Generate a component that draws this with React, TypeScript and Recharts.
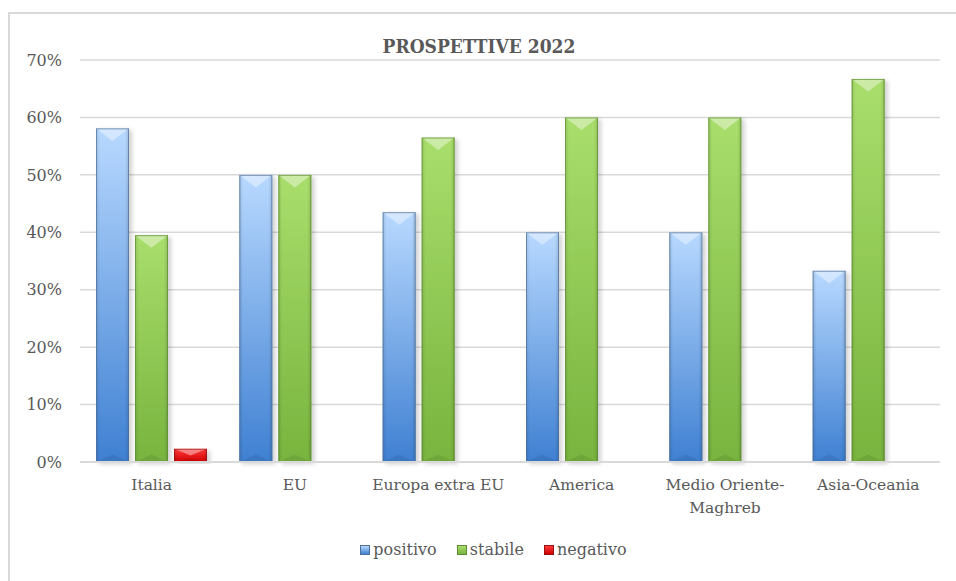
import { BarChart, Bar, XAxis, YAxis, CartesianGrid, Legend } from "recharts";

const categories = ["Italia", "EU", "Europa extra EU", "America", "Medio Oriente-Maghreb", "Asia-Oceania"];
const positivo = [58.1, 50, 43.5, 40, 40, 33.3];
const stabile = [39.5, 50, 56.5, 60, 60, 66.7];
const negativo = [2.3, 0, 0, 0, 0, 0];
const yTicks = [0, 10, 20, 30, 40, 50, 60, 70];

const data = categories.map((name, i) => ({
  name,
  positivo: positivo[i],
  stabile: stabile[i],
  negativo: negativo[i],
}));

const FONT = "'DejaVu Serif', serif";
const TEXT = "#595959";

// top/bottom colours of the bevelled bars
const SERIES = [
  { key: "positivo", top: "#b8d9ff", bottom: "#3f80d2", edge: "#4f6f96" },
  { key: "stabile", top: "#a9de6c", bottom: "#78b43e", edge: "#5f8a34" },
  { key: "negativo", top: "#ff3a3a", bottom: "#d00000", edge: "#9a1010" },
];

function BevelBar(props: any) {
  const { x, y, width, height, id } = props;
  if (!height || height <= 0) return null;
  const d = Math.min(width * 0.38, height / 2);
  const cx = x + width / 2;
  return (
    <g filter="url(#barShadow)">
      <rect x={x} y={y} width={width} height={height} fill={`url(#grad-${id})`} />
      <rect x={x} y={y} width={width} height={height} fill={`url(#side-${id})`} />
      <polygon points={`${x},${y} ${x + width},${y} ${cx},${y + d}`} fill="#ffffff" opacity={0.4} />
      <polygon
        points={`${x},${y + height} ${x + width},${y + height} ${cx},${y + height - d * 0.6}`}
        fill="#000000"
        opacity={0.08}
      />
      <rect
        x={x + 0.5}
        y={y + 0.5}
        width={width - 1}
        height={height - 1}
        fill="none"
        stroke={SERIES.find((s) => s.key === id)?.edge}
        strokeOpacity={0.7}
      />
    </g>
  );
}

function XTick(props: any) {
  const { x, y, payload } = props;
  const label: string = payload.value;
  const cut = label.indexOf("-") + 1;
  const lines = label.length > 16 && cut > 0 ? [label.slice(0, cut), label.slice(cut)] : [label];
  return (
    <text x={x} y={y} textAnchor="middle" fill={TEXT} fontFamily={FONT} fontSize={15.5}>
      {lines.map((l, i) => (
        <tspan key={i} x={x} dy={i === 0 ? 20 : 23}>
          {l}
        </tspan>
      ))}
    </text>
  );
}

function LegendContent() {
  return (
    <div
      style={{
        display: "flex",
        justifyContent: "center",
        gap: 20,
        paddingLeft: 37,
        fontFamily: FONT,
        fontSize: 16,
        color: TEXT,
      }}
    >
      {SERIES.map((s) => (
        <div key={s.key} style={{ display: "flex", alignItems: "center" }}>
          <span
            style={{
              width: 10,
              height: 10,
              marginRight: 3,
              background: `linear-gradient(${s.top}, ${s.bottom})`,
              border: `1px solid ${s.edge}`,
              boxSizing: "border-box",
            }}
          />
          {s.key}
        </div>
      ))}
    </div>
  );
}

export default function App() {
  return (
    <div
      style={{
        position: "absolute",
        left: 8,
        top: 12,
        width: 960,
        height: 580,
        border: "2px solid #d9d9d9",
        background: "#fff",
      }}
    >
      <div
        style={{
          position: "absolute",
          top: 21,
          left: 0,
          width: 938,
          textAlign: "center",
          fontFamily: "'DejaVu Serif Condensed', 'DejaVu Serif', serif",
          fontWeight: "bold",
          fontSize: 19,
          color: TEXT,
        }}
      >
        PROSPETTIVE 2022
      </div>
      <BarChart
        width={948}
        height={569}
        data={data}
        margin={{ top: 46, right: 18, bottom: 0, left: 0 }}
        barSize={33}
        barGap={6}
      >
        <defs>
          {SERIES.map((s) => (
            <linearGradient key={s.key} id={`grad-${s.key}`} x1="0" y1="0" x2="0" y2="1">
              <stop offset="0%" stopColor={s.top} />
              <stop offset="100%" stopColor={s.bottom} />
            </linearGradient>
          ))}
          {SERIES.map((s) => (
            <linearGradient key={s.key} id={`side-${s.key}`} x1="0" y1="0" x2="1" y2="0">
              <stop offset="0%" stopColor="#000" stopOpacity={0.12} />
              <stop offset="12%" stopColor="#000" stopOpacity={0} />
              <stop offset="88%" stopColor="#000" stopOpacity={0} />
              <stop offset="100%" stopColor="#000" stopOpacity={0.15} />
            </linearGradient>
          ))}
          <filter id="barShadow" x="-20%" y="-5%" width="150%" height="115%">
            <feDropShadow dx={3} dy={2} stdDeviation={2} floodColor="#000" floodOpacity={0.18} />
          </filter>
        </defs>
        <CartesianGrid vertical={false} stroke="#d9d9d9" strokeWidth={1.5} />
        <XAxis
          dataKey="name"
          tick={<XTick />}
          tickLine={false}
          axisLine={{ stroke: "#d9d9d9", strokeWidth: 2 }}
          interval={0}
          height={78}
        />
        <YAxis
          domain={[0, 70]}
          ticks={yTicks}
          tickFormatter={(v) => `${v}%`}
          tick={{ fill: TEXT, fontFamily: FONT, fontSize: 16 }}
          tickLine={false}
          axisLine={false}
          width={70}
          tickMargin={12}
        />
        <Legend verticalAlign="bottom" height={43} content={<LegendContent />} />
        {SERIES.map((s) => (
          <Bar key={s.key} dataKey={s.key} isAnimationActive={false} shape={(p: any) => <BevelBar {...p} id={s.key} />} />
        ))}
      </BarChart>
    </div>
  );
}
